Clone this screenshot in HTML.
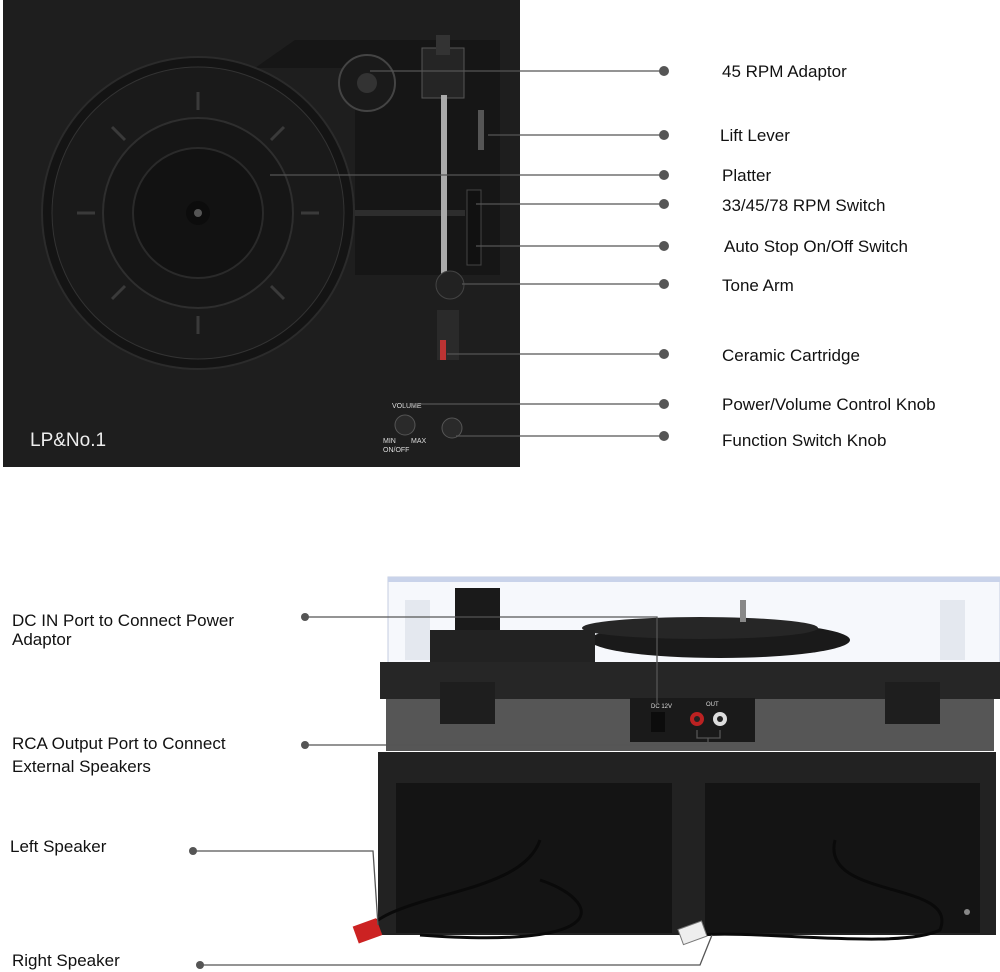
<!DOCTYPE html>
<html><head><meta charset="utf-8"><style>
html,body{margin:0;padding:0;background:#fff;}
svg{display:block;}
text{font-family:"Liberation Sans",sans-serif;fill:#111;}
</style></head><body>
<svg width="1000" height="972" viewBox="0 0 1000 972" xmlns="http://www.w3.org/2000/svg">
<!-- TOP TURNTABLE -->
<rect x="3" y="0" width="517" height="467" fill="#1e1e1e"/>
<polygon points="255,68 295,40 500,40 500,275 355,275 355,68" fill="#161616"/>
<circle cx="198" cy="213" r="156" fill="#141414" stroke="#2b2b2b" stroke-width="2"/>
<circle cx="198" cy="213" r="146" fill="#1a1a1a" stroke="#333" stroke-width="1"/>
<circle cx="198" cy="213" r="95" fill="#161616" stroke="#2e2e2e" stroke-width="2"/>
<circle cx="198" cy="213" r="65" fill="#121212" stroke="#2a2a2a" stroke-width="2"/>
<circle cx="198" cy="213" r="12" fill="#0c0c0c"/>
<circle cx="198" cy="213" r="4" fill="#555"/>
<g stroke="#3a3a3a" stroke-width="3">
<line x1="198" y1="92" x2="198" y2="110"/><line x1="198" y1="316" x2="198" y2="334"/>
<line x1="77" y1="213" x2="95" y2="213"/><line x1="301" y1="213" x2="319" y2="213"/>
<line x1="112" y1="127" x2="125" y2="140"/><line x1="271" y1="286" x2="284" y2="299"/>
<line x1="112" y1="299" x2="125" y2="286"/><line x1="271" y1="140" x2="284" y2="127"/>
</g>
<rect x="355" y="210" width="110" height="6" fill="#2d2d2d"/>
<circle cx="367" cy="83" r="28" fill="#1a1a1a" stroke="#444" stroke-width="2"/>
<circle cx="367" cy="83" r="10" fill="#333"/>
<rect x="422" y="48" width="42" height="50" fill="#252525" stroke="#555"/>
<rect x="436" y="35" width="14" height="20" fill="#333"/>
<rect x="441" y="95" width="6" height="190" fill="#aaa"/>
<circle cx="450" cy="285" r="14" fill="#222" stroke="#444"/>
<rect x="437" y="310" width="22" height="50" fill="#2a2a2a"/>
<rect x="440" y="340" width="6" height="20" fill="#b33"/>
<rect x="467" y="190" width="14" height="75" fill="#111" stroke="#444"/>
<rect x="478" y="110" width="6" height="40" fill="#555"/>
<circle cx="405" cy="425" r="10" fill="#2a2a2a" stroke="#555"/>
<circle cx="452" cy="428" r="10" fill="#2a2a2a" stroke="#555"/>
<text x="392" y="408" font-size="7" style="fill:#ddd">VOLUME</text>
<text x="383" y="443" font-size="7" style="fill:#ddd">MIN</text>
<text x="411" y="443" font-size="7" style="fill:#ddd">MAX</text>
<text x="383" y="452" font-size="7" style="fill:#ddd">ON/OFF</text>
<text x="30" y="446" font-size="19" style="fill:#eee">LP&amp;No.1</text>

<!-- TOP CONNECTORS -->
<g stroke="#555" stroke-width="1.3" fill="none">
<line x1="370" y1="71" x2="664" y2="71"/>
<line x1="488" y1="135" x2="664" y2="135"/>
<line x1="270" y1="175" x2="664" y2="175"/>
<line x1="476" y1="204" x2="664" y2="204"/>
<line x1="476" y1="246" x2="664" y2="246"/>
<line x1="462" y1="284" x2="664" y2="284"/>
<line x1="447" y1="354" x2="664" y2="354"/>
<line x1="412" y1="404" x2="664" y2="404"/>
<line x1="456" y1="436" x2="664" y2="436"/>
</g>
<g fill="#555">
<circle cx="664" cy="71" r="5"/><circle cx="664" cy="135" r="5"/><circle cx="664" cy="175" r="5"/>
<circle cx="664" cy="204" r="5"/><circle cx="664" cy="246" r="5"/><circle cx="664" cy="284" r="5"/>
<circle cx="664" cy="354" r="5"/><circle cx="664" cy="404" r="5"/><circle cx="664" cy="436" r="5"/>
</g>
<g font-size="17">
<text x="722" y="77">45 RPM Adaptor</text>
<text x="720" y="141">Lift Lever</text>
<text x="722" y="181">Platter</text>
<text x="722" y="211">33/45/78 RPM Switch</text>
<text x="724" y="252">Auto Stop On/Off Switch</text>
<text x="722" y="291">Tone Arm</text>
<text x="722" y="361">Ceramic Cartridge</text>
<text x="722" y="410">Power/Volume Control Knob</text>
<text x="722" y="446">Function Switch Knob</text>
</g>

<!-- BOTTOM TURNTABLE -->
<rect x="388" y="577" width="612" height="86" fill="#f6f8fc" stroke="#c4cde0"/>
<rect x="388" y="577" width="612" height="5" fill="#c9d3ea"/>
<rect x="405" y="600" width="25" height="60" fill="#e4e8ef"/>
<rect x="940" y="600" width="25" height="60" fill="#e4e8ef"/>
<ellipse cx="720" cy="640" rx="130" ry="18" fill="#1a1a1a"/>
<ellipse cx="700" cy="628" rx="118" ry="11" fill="#262626"/>
<rect x="740" y="600" width="6" height="22" fill="#888"/>
<rect x="455" y="588" width="45" height="42" fill="#1a1a1a"/>
<rect x="430" y="630" width="165" height="33" fill="#222"/>
<rect x="380" y="662" width="620" height="37" fill="#262626"/>
<rect x="386" y="699" width="608" height="52" fill="#565656"/>
<rect x="630" y="698" width="125" height="44" fill="#1a1a1a"/>
<rect x="651" y="712" width="14" height="20" fill="#0c0c0c"/>
<text x="651" y="708" font-size="6" style="fill:#ddd">DC 12V</text>
<text x="706" y="706" font-size="6" style="fill:#ddd">OUT</text>
<circle cx="697" cy="719" r="7" fill="#b22"/><circle cx="720" cy="719" r="7" fill="#ddd"/>
<circle cx="697" cy="719" r="3" fill="#222"/><circle cx="720" cy="719" r="3" fill="#222"/>
<rect x="440" y="682" width="55" height="42" fill="#1e1e1e"/>
<rect x="885" y="682" width="55" height="42" fill="#1e1e1e"/>
<!-- speakers -->
<rect x="378" y="752" width="618" height="183" fill="#222"/>
<rect x="396" y="783" width="276" height="150" fill="#141414"/>
<rect x="705" y="783" width="275" height="150" fill="#141414"/>
<circle cx="967" cy="912" r="3" fill="#888"/>
<path d="M540 840 C520 900,380 890,360 940 M835 840 C820 900,960 880,940 930 C900 950,760 930,700 935 M540 880 C600 900,620 950,420 935" stroke="#0a0a0a" stroke-width="3" fill="none"/>
<rect x="355" y="922" width="25" height="18" fill="#c22" transform="rotate(-20 367 931)"/>
<rect x="680" y="925" width="25" height="16" fill="#eee" stroke="#777" transform="rotate(-20 692 933)"/>

<!-- BOTTOM CONNECTORS -->
<g stroke="#555" stroke-width="1.3" fill="none">
<polyline points="305,617 657,617 657,705"/>
<polyline points="305,745 708,745 708,738"/>
<polyline points="697,730 697,738 720,738 720,730"/>
<polyline points="193,851 373,851 378,925"/>
<polyline points="200,965 700,965 712,935"/>
</g>
<g fill="#555">
<circle cx="305" cy="617" r="4"/><circle cx="305" cy="745" r="4"/>
<circle cx="193" cy="851" r="4"/><circle cx="200" cy="965" r="4"/>
</g>
<g font-size="17">
<text x="12" y="626">DC IN Port to Connect Power</text>
<text x="12" y="645">Adaptor</text>
<text x="12" y="749">RCA Output Port to Connect</text>
<text x="12" y="772">External Speakers</text>
<text x="10" y="852">Left Speaker</text>
<text x="12" y="966">Right Speaker</text>
</g>
</svg>
</body></html>
